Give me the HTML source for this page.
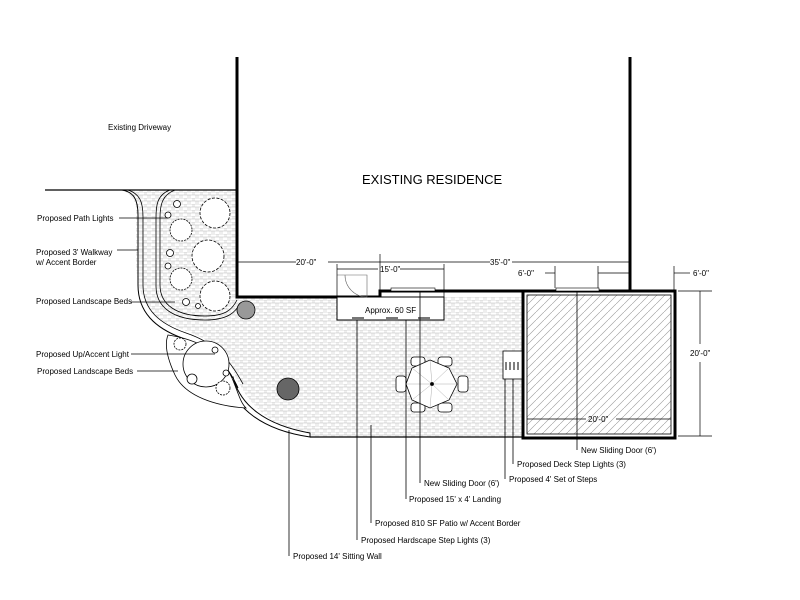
<!DOCTYPE html>
<html><head><meta charset="utf-8"><style>
html,body{margin:0;padding:0;background:#fff}
svg{display:block}
text{font-family:"Liberation Sans",sans-serif;font-size:8px;fill:#000}
</style></head><body>
<svg width="800" height="600" viewBox="0 0 800 600" xmlns="http://www.w3.org/2000/svg">
<defs>
<pattern id="pv" width="8" height="6" patternUnits="userSpaceOnUse">
<rect width="8" height="6" fill="#fff"/>
<path d="M0 0H8M0 3H8M0 0V3M4 3V6M2 0V3M6 3V6" stroke="#bbb" stroke-width="0.5" fill="none"/>
</pattern>
<pattern id="hat" width="8" height="8" patternUnits="userSpaceOnUse">
<rect width="8" height="8" fill="#fff"/>
<path d="M0 8L8 0" stroke="#999" stroke-width="0.6"/>
</pattern>
</defs>

<!-- patio / walkway paving -->
<path d="M122 190 H237 V297 H522 V437 H310 C280 430 250 410 235 375 C225 345 200 335 170 325 C145 312 136 290 136 260 V210 C136 200 130 193 122 190 Z" fill="url(#pv)"/>
<!-- walkway borders -->
<path d="M122 190 C134 192 138 200 138 215 V285 C138 312 155 328 182 338 C212 348 226 362 238 388" fill="none" stroke="#000" stroke-width="1"/>
<path d="M128 190 C140 194 143 202 143 217 V285 C143 310 160 324 186 333 C216 343 230 360 243 384" fill="none" stroke="#000" stroke-width="0.8"/>
<!-- inner bed border -->
<path d="M175 190 C162 195 160 205 160 218 V285 C160 305 177 316 205 316 C225 316 232 310 237 300" fill="none" stroke="#000" stroke-width="0.8"/>
<path d="M170 190 C157 195 156 205 156 218 V286 C156 308 174 320 205 320 C228 320 236 312 240 303" fill="none" stroke="#000" stroke-width="0.8"/>
<!-- sitting wall curve -->
<path d="M233 377 C240 405 265 425 310 433 L310 437 C262 430 235 408 228 380 Z" fill="#fff" stroke="#000" stroke-width="1"/>
<!-- lower bed -->
<path d="M168 335 C200 340 220 352 232 378 C238 392 240 402 246 408 C215 406 185 396 175 375 C168 360 164 345 168 335 Z" fill="#fff" stroke="#000" stroke-width="0.8"/>
<line x1="310" y1="437" x2="522" y2="437" stroke="#000" stroke-width="1.2"/>

<!-- driveway line -->
<line x1="45" y1="190" x2="237" y2="190" stroke="#000" stroke-width="1.2"/>

<!-- residence -->
<path d="M237 57 V297 H380 V291 H630 V57" fill="none" stroke="#000" stroke-width="3"/>

<!-- landing -->
<rect x="337" y="297" width="107" height="23" fill="#fff" stroke="#000" stroke-width="1"/>
<path d="M367 297 A22 22 0 0 1 345 275 M367 297 V275 H337" fill="none" stroke="#666" stroke-width="0.6"/>
<rect x="352" y="317" width="12" height="4" fill="#777"/>
<rect x="386" y="317" width="12" height="4" fill="#777"/>
<rect x="418" y="317" width="12" height="4" fill="#777"/>
<rect x="391" y="288" width="44" height="3" fill="#fff" stroke="#000" stroke-width="0.6"/>
<text x="365" y="313">Approx. 60 SF</text>

<!-- deck -->
<rect x="523" y="291" width="152" height="147" fill="none" stroke="#000" stroke-width="3"/>
<rect x="527" y="295" width="144" height="139" fill="url(#hat)" stroke="#000" stroke-width="0.8"/>
<rect x="556" y="288" width="43" height="3" fill="#fff" stroke="#000" stroke-width="0.6"/>
<!-- steps -->
<rect x="503" y="351" width="19" height="28" fill="#fff" stroke="#000" stroke-width="0.8"/>
<path d="M506 362V370M510 362V370M514 362V370M518 362V370" stroke="#000" stroke-width="1"/>

<!-- table -->
<g transform="translate(432,384)" stroke="#000" fill="#fff" stroke-width="0.8">
<rect x="-36" y="-8" width="10" height="16" rx="3"/><rect x="26" y="-8" width="10" height="16" rx="3"/>
<rect x="-21" y="-27" width="14" height="9" rx="3"/><rect x="6" y="-27" width="14" height="9" rx="3"/>
<rect x="-21" y="19" width="14" height="9" rx="3"/><rect x="6" y="19" width="14" height="9" rx="3"/>
<polygon points="-2,-24 17,-16 25,0 17,16 -2,24 -20,16 -26,0 -20,-16"/>
<path d="M0 0L-2 -24M0 0L17 -16M0 0L25 0M0 0L17 16M0 0L-2 24M0 0L-20 16M0 0L-26 0M0 0L-20 -16" stroke="#999" stroke-width="0.4"/>
<circle r="1.5" fill="#000"/>
</g>

<!-- plants -->
<g stroke="#000" fill="#fff" stroke-width="0.8">
<circle cx="215" cy="213" r="15" stroke-dasharray="3 1.5"/>
<circle cx="208" cy="256" r="16" stroke-dasharray="3 1.5"/>
<circle cx="215" cy="296" r="15" stroke-dasharray="3 1.5"/>
<circle cx="181" cy="230" r="11" stroke-dasharray="2 1"/>
<circle cx="181" cy="279" r="11" stroke-dasharray="2 1"/>
<circle cx="177" cy="204" r="3.5"/><circle cx="168" cy="215" r="3"/><circle cx="170" cy="253" r="3.5"/><circle cx="168" cy="266" r="3"/><circle cx="186" cy="302" r="3.5"/><circle cx="198" cy="306" r="2.5"/>
<circle cx="206" cy="364" r="23"/>
<circle cx="180" cy="344" r="6" stroke-dasharray="2 1"/>
<circle cx="192" cy="379" r="5"/>
<circle cx="223" cy="388" r="7" stroke-dasharray="2 1"/>
<circle cx="215" cy="350" r="3"/><circle cx="226" cy="373" r="3"/>
<circle cx="246" cy="310" r="9" fill="#999"/>
<circle cx="288" cy="389" r="11" fill="#666"/>
</g>

<!-- dimension lines -->
<g stroke="#000" stroke-width="0.7" fill="none">
<line x1="237" y1="262" x2="296" y2="262"/><line x1="328" y1="262" x2="380" y2="262"/>
<line x1="380" y1="262" x2="490" y2="262"/><line x1="512" y1="262" x2="630" y2="262"/>
<line x1="380" y1="254" x2="380" y2="297"/>
<line x1="337" y1="269" x2="378" y2="269"/><line x1="400" y1="269" x2="444" y2="269"/>
<line x1="337" y1="264" x2="337" y2="297"/><line x1="444" y1="264" x2="444" y2="297"/>
<line x1="545" y1="273" x2="555" y2="273"/><line x1="555" y1="266" x2="555" y2="288"/>
<line x1="598" y1="266" x2="598" y2="288"/><line x1="598" y1="273" x2="630" y2="273"/>
<line x1="674" y1="266" x2="674" y2="290"/><line x1="674" y1="273" x2="690" y2="273"/>
<line x1="678" y1="291" x2="712" y2="291"/><line x1="678" y1="436" x2="712" y2="436"/>
<line x1="700" y1="291" x2="700" y2="344"/><line x1="700" y1="362" x2="700" y2="436"/>
<line x1="527" y1="419" x2="586" y2="419"/><line x1="616" y1="419" x2="671" y2="419"/>
</g>
<text x="296" y="265">20'-0"</text>
<text x="490" y="265">35'-0"</text>
<text x="380" y="272">15'-0"</text>
<text x="518" y="276">6'-0"</text>
<text x="693" y="276">6'-0"</text>
<text x="690" y="356">20'-0"</text>
<text x="588" y="422">20'-0"</text>

<text x="362" y="184" style="font-size:13px">EXISTING RESIDENCE</text>
<text x="108" y="130">Existing Driveway</text>

<!-- left labels -->
<g stroke="#000" stroke-width="0.8">
<line x1="119" y1="218" x2="168" y2="218"/>
<line x1="117" y1="250" x2="138" y2="250"/>
<line x1="130" y1="302" x2="175" y2="302"/>
<line x1="131" y1="354" x2="215" y2="354"/>
<line x1="137" y1="371" x2="178" y2="371"/>
</g>
<text x="37" y="221">Proposed Path Lights</text>
<text x="36" y="255">Proposed 3' Walkway</text>
<text x="36" y="265">w/ Accent Border</text>
<text x="36" y="304">Proposed Landscape Beds</text>
<text x="36" y="357">Proposed Up/Accent Light</text>
<text x="37" y="374">Proposed Landscape Beds</text>

<!-- bottom leaders -->
<g stroke="#000" stroke-width="0.8">
<line x1="289" y1="430" x2="289" y2="556"/>
<line x1="357" y1="320" x2="357" y2="540"/>
<line x1="371" y1="425" x2="371" y2="523"/>
<line x1="406" y1="320" x2="406" y2="499"/>
<line x1="420" y1="291" x2="420" y2="483"/>
<line x1="505" y1="379" x2="505" y2="479"/>
<line x1="513" y1="379" x2="513" y2="464"/>
<line x1="577" y1="291" x2="577" y2="450"/>
</g>
<text x="293" y="559">Proposed 14' Sitting Wall</text>
<text x="361" y="543">Proposed Hardscape Step Lights (3)</text>
<text x="375" y="526">Proposed 810 SF Patio w/ Accent Border</text>
<text x="409" y="502">Proposed 15' x 4' Landing</text>
<text x="424" y="486">New Sliding Door (6')</text>
<text x="509" y="482">Proposed 4' Set of Steps</text>
<text x="517" y="467">Proposed Deck Step Lights (3)</text>
<text x="581" y="453">New Sliding Door (6')</text>
</svg>
</body></html>
